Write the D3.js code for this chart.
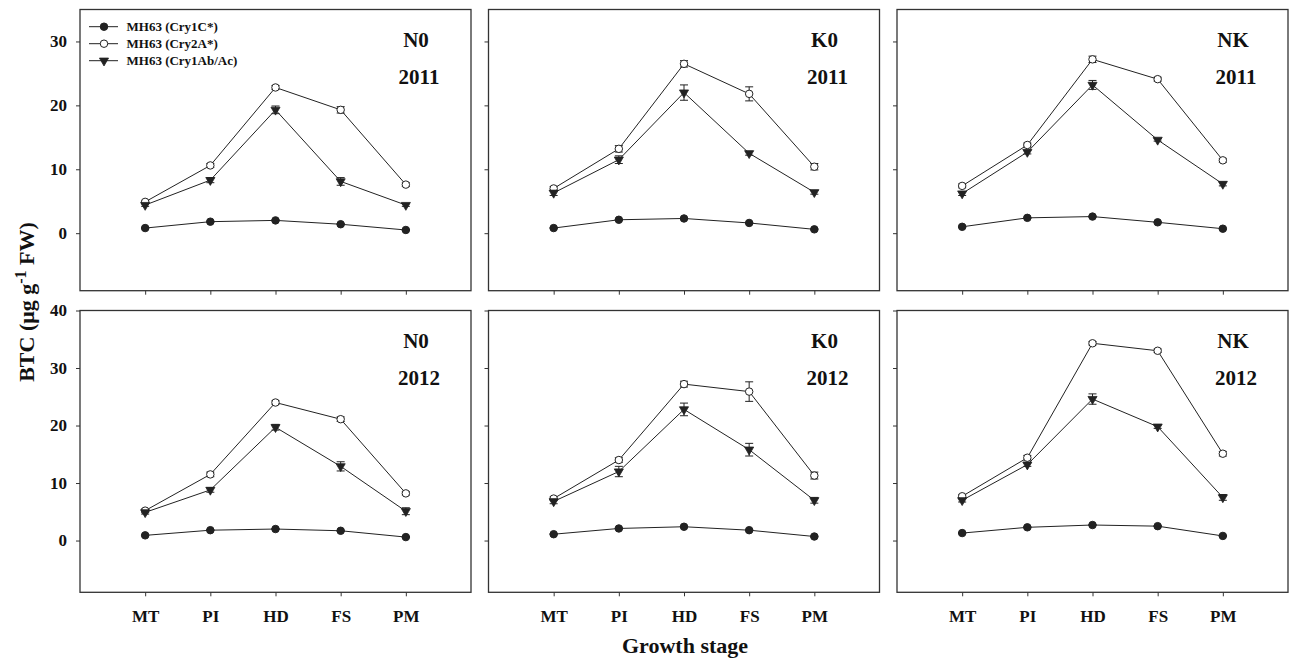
<!DOCTYPE html>
<html>
<head>
<meta charset="utf-8">
<script src="https://cdn.jsdelivr.net/npm/d3@7"></script>
<style>
  body { margin: 0; background: #fff; }
  svg { display: block; font-family: "Liberation Serif", "Times New Roman", serif; font-weight: bold; }
</style>
</head>
<body>
<svg id="svg" width="1290" height="661"></svg>
<script>
// growth stages and panel labels
var stages = ["MT", "PI", "HD", "FS", "PM"];
var treatments = ["N0", "K0", "NK"];
var years = ["2011", "2012"];
var seriesNames = ["MH63 (Cry1C*)", "MH63 (Cry2A*)", "MH63 (Cry1Ab/Ac)"];

// BTC values, one row per treatment (N0, K0, NK)
var cry1C_2011 = [[0.8, 1.8, 2.0, 1.4, 0.5], [0.8, 2.1, 2.3, 1.6, 0.6], [1.0, 2.4, 2.6, 1.7, 0.7]];
var cry2A_2011 = [[4.9, 10.6, 22.8, 19.3, 7.6], [7.0, 13.2, 26.5, 21.8, 10.4], [7.4, 13.8, 27.2, 24.1, 11.4]];
var cry1Ab_2011 = [[4.4, 8.3, 19.3, 8.1, 4.4], [6.3, 11.5, 22.0, 12.5, 6.4], [6.2, 12.7, 23.2, 14.6, 7.7]];
var cry1C_2012 = [[0.9, 1.8, 2.0, 1.7, 0.6], [1.1, 2.1, 2.4, 1.8, 0.7], [1.3, 2.3, 2.7, 2.5, 0.8]];
var cry2A_2012 = [[5.2, 11.5, 24.0, 21.1, 8.2], [7.3, 14.0, 27.2, 25.9, 11.3], [7.7, 14.4, 34.3, 33.0, 15.1]];
var cry1Ab_2012 = [[4.9, 8.8, 19.7, 12.9, 5.1], [6.8, 12.0, 22.8, 15.8, 7.0], [7.0, 13.2, 24.6, 19.8, 7.5]];

// standard errors
var err1C_2011 = [[0.1, 0.1, 0.1, 0.1, 0.1], [0.1, 0.1, 0.1, 0.1, 0.1], [0.1, 0.1, 0.1, 0.1, 0.1]];
var err2A_2011 = [[0.2, 0.3, 0.3, 0.5, 0.3], [0.3, 0.5, 0.5, 1.1, 0.5], [0.3, 0.3, 0.5, 0.3, 0.3]];
var err1Ab_2011 = [[0.2, 0.4, 0.6, 0.6, 0.2], [0.4, 0.6, 1.2, 0.3, 0.3], [0.3, 0.3, 0.7, 0.2, 0.3]];
var err1C_2012 = [[0.1, 0.1, 0.1, 0.1, 0.1], [0.1, 0.1, 0.1, 0.1, 0.1], [0.1, 0.1, 0.1, 0.1, 0.1]];
var err2A_2012 = [[0.3, 0.4, 0.3, 0.4, 0.3], [0.3, 0.4, 0.5, 1.7, 0.6], [0.3, 0.4, 0.3, 0.3, 0.4]];
var err1Ab_2012 = [[0.3, 0.4, 0.5, 0.8, 0.6], [0.4, 0.9, 1.1, 1.1, 0.5], [0.3, 0.3, 0.9, 0.3, 0.5]];

var yTicksTop = [0, 10, 20, 30];
var yTicksBottom = [0, 10, 20, 30, 40];

var svg = d3.select("#svg");
var ink = "#222";

var panelW = 391, gap = 17.5, left0 = 80;
var rows = [
  {year: years[0], top: 9.5, bottom: 290.7, domain: [-9, 35], ticks: yTicksTop,
   data: [cry1C_2011, cry2A_2011, cry1Ab_2011], err: [err1C_2011, err2A_2011, err1Ab_2011]},
  {year: years[1], top: 310.5, bottom: 592.3, domain: [-9, 40], ticks: yTicksBottom,
   data: [cry1C_2012, cry2A_2012, cry1Ab_2012], err: [err1C_2012, err2A_2012, err1Ab_2012]}
];

var circle = d3.symbol().type(d3.symbolCircle).size(44)();
var tri = d3.symbol().type(d3.symbolTriangle).size(36)();

function drawMarker(g, kind, x, y) {
  if (kind === 2) {
    g.append("path").attr("d", tri)
      .attr("transform", "translate(" + x + "," + y + ") rotate(180)")
      .attr("fill", ink).attr("stroke", ink).attr("stroke-width", 0.8);
  } else {
    g.append("path").attr("d", circle)
      .attr("transform", "translate(" + x + "," + y + ")")
      .attr("fill", kind === 0 ? ink : "#fff")
      .attr("stroke", ink).attr("stroke-width", 1);
  }
}

rows.forEach(function(row, ri) {
  var y = d3.scaleLinear().domain(row.domain).range([row.bottom, row.top]);

  treatments.forEach(function(tr, ti) {
    var x0 = left0 + ti * (panelW + gap);
    var x = d3.scalePoint().domain(stages).range([x0, x0 + panelW]).padding(1);
    var g = svg.append("g");

    // frame
    g.append("rect").attr("x", x0).attr("y", row.top)
      .attr("width", panelW).attr("height", row.bottom - row.top)
      .attr("fill", "none").attr("stroke", "#333").attr("stroke-width", 1.3);

    // y axis
    var ya = d3.axisLeft(y).tickValues(row.ticks).tickSizeOuter(0).tickSizeInner(4).tickPadding(9);
    if (ti > 0) ya.tickFormat("");
    var yg = g.append("g").attr("transform", "translate(" + x0 + ",0)").call(ya)
      .attr("font-family", null).attr("font-size", 17);
    yg.select(".domain").remove();
    yg.selectAll("line").attr("stroke", "#333");
    yg.selectAll("text").attr("fill", "#111");

    // x axis
    var xa = d3.axisBottom(x).tickSizeOuter(0).tickSizeInner(4).tickPadding(14);
    if (ri === 0) xa.tickFormat("");
    var xg = g.append("g").attr("transform", "translate(0," + row.bottom + ")").call(xa)
      .attr("font-family", null).attr("font-size", 17);
    xg.select(".domain").remove();
    xg.selectAll("line").attr("stroke", "#333");
    xg.selectAll("text").attr("fill", "#111");

    // series
    row.data.forEach(function(series, si) {
      var vals = series[ti];
      var errs = row.err[si][ti];
      var line = d3.line().x(function(d, i) { return x(stages[i]); }).y(function(d) { return y(d); });
      g.append("path").datum(vals).attr("d", line)
        .attr("fill", "none").attr("stroke", ink).attr("stroke-width", 1);
      vals.forEach(function(v, i) {
        var cx = x(stages[i]);
        var e = errs[i];
        g.append("line").attr("x1", cx).attr("x2", cx).attr("y1", y(v - e)).attr("y2", y(v + e))
          .attr("stroke", ink).attr("stroke-width", 1);
        [v - e, v + e].forEach(function(c) {
          g.append("line").attr("x1", cx - 4).attr("x2", cx + 4).attr("y1", y(c)).attr("y2", y(c))
            .attr("stroke", ink).attr("stroke-width", 1);
        });
      });
      vals.forEach(function(v, i) { drawMarker(g, si, x(stages[i]), y(v)); });
    });

    // panel labels
    var rx = x0 + panelW;
    g.append("text").attr("x", rx - 55).attr("y", row.top + 37)
      .attr("text-anchor", "middle").attr("font-size", 21).attr("fill", "#111").text(tr);
    g.append("text").attr("x", rx - 52).attr("y", row.top + 74)
      .attr("text-anchor", "middle").attr("font-size", 21).attr("fill", "#111").text(row.year);
  });
});

// legend
var lg = svg.append("g");
seriesNames.forEach(function(name, i) {
  var ly = 26.7 + i * 17;
  lg.append("line").attr("x1", 89).attr("x2", 118).attr("y1", ly).attr("y2", ly)
    .attr("stroke", ink).attr("stroke-width", 1);
  drawMarker(lg, i, 104, ly);
  lg.append("text").attr("x", 126.5).attr("y", ly + 4.5)
    .attr("font-size", 13).attr("fill", "#111").text(name);
});

// axis titles
svg.append("text").attr("x", 685).attr("y", 653)
  .attr("text-anchor", "middle").attr("font-size", 22).attr("fill", "#111").text("Growth stage");

var yt = svg.append("text").attr("transform", "translate(34,302) rotate(-90)")
  .attr("text-anchor", "middle").attr("font-size", 22).attr("fill", "#111");
yt.append("tspan").text("BTC (\u03bcg g");
yt.append("tspan").attr("dy", -8).attr("font-size", 16).text("-1");
yt.append("tspan").attr("dy", 8).text(" FW)");
</script>
</body>
</html>
